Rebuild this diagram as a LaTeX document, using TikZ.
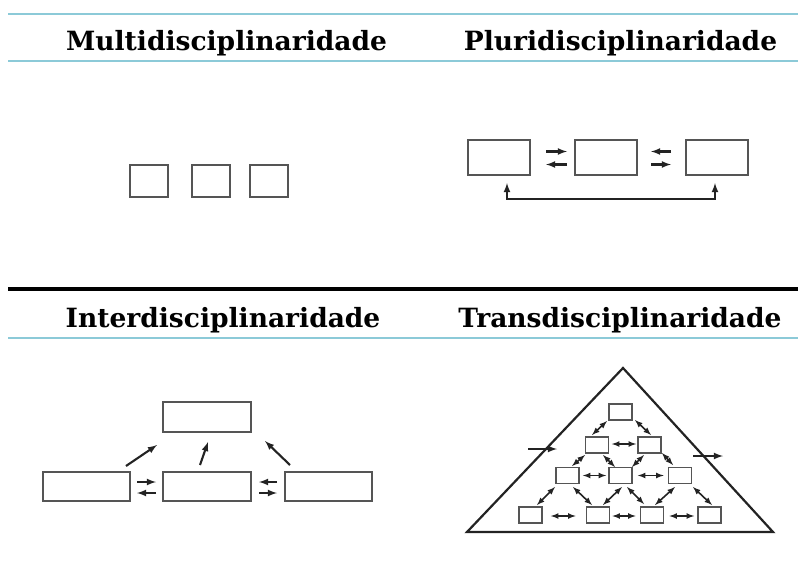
\documentclass[tikz,border=0pt]{standalone}
\usepackage{fontspec}
\setmainfont{DejaVu Serif}
\usepackage{tikz}
\usetikzlibrary{calc,arrows}
\definecolor{rulecyan}{RGB}{140,202,216}
\definecolor{boxgray}{RGB}{85,85,85}
\definecolor{arrowgray}{RGB}{35,35,35}

\begin{document}
\begin{tikzpicture}[x=1pt,y=-1pt]
            \tikzset{
              Title/.style={font=\fontsize{26.5}{30}\selectfont\bfseries,anchor=base,inner sep=0pt},
              Disc/.style 2 args={draw=boxgray,line width=2pt,inner sep=0pt,minimum width=#1,minimum height=#2},
              Flow/.style={-latex,draw=arrowgray,line width=2.1pt},
              Link/.style={latex-latex,draw=arrowgray,line width=1.6pt}
            }
            \useasboundingbox (0,0) rectangle (798,579);

            % rules and titles
            \draw[rulecyan,line width=2.5pt] (8,14) -- (798,14);
            \draw[rulecyan,line width=2.5pt] (8,61) -- (798,61);
            \draw[black,line width=4.5pt] (8,289) -- (798,289);
            \draw[rulecyan,line width=2.5pt] (8,338) -- (798,338);
            \node[Title] (multi) at (226.5,50) {Multidisciplinaridade};
            \node[Title] (pluri) at (620.5,50) {Pluridisciplinaridade};
            \node[Title] (inter) at (223,327) {Interdisciplinaridade};
            \node[Title] (trans) at (620,327) {Transdisciplinaridade};

            % multi
            \node[Disc={38pt}{32pt}] (m_1) at (149,181) {};
            \node[Disc={38pt}{32pt}] (m_2) at (211,181) {};
            \node[Disc={38pt}{32pt}] (m_3) at (268.5,181) {};

            % pluri
            \node[Disc={62pt}{35pt}] (p_1) at (498.5,157.5) {};
            \node[Disc={62pt}{35pt}] (p_2) at (605.5,157.5) {};
            \node[Disc={62pt}{35pt}] (p_3) at (717,157.5) {};
            \draw[Flow] ($(p_1.east)+(15.5,-6)$) -- ($(p_2.west)+(-6.5,-6)$);
            \draw[Flow] ($(p_2.west)+(-6.5,7)$) -- ($(p_1.east)+(15.5,7)$);
            \draw[Flow] ($(p_3.west)+(-14,-6)$) -- ($(p_2.east)+(13.5,-6)$);
            \draw[Flow] ($(p_2.east)+(13.5,7)$) -- ($(p_3.west)+(-14,7)$);
            \draw[Flow,latex-latex] ($(p_1.south)+(8.5,7)$) -- ++(0,16) -| ($(p_3.south)+(-2,7)$);

            % inter
            \node[Disc={88pt}{30pt}] (i_0) at (207,417) {};
            \node[Disc={87pt}{29pt}] (i_1) at (86.5,486) {};
            \node[Disc={88pt}{29pt}] (i_2) at (207,486) {};
            \node[Disc={87pt}{29pt}] (i_3) at (328.5,486) {};
            \draw[Flow] ($(i_1.east)+(6,-4)$) -- ($(i_2.west)+(-6,-4)$);
            \draw[Flow] ($(i_2.west)+(-6,7)$) -- ($(i_1.east)+(6,7)$);
            \draw[Flow] ($(i_3.west)+(-7,-4)$) -- ($(i_2.east)+(7,-4)$);
            \draw[Flow] ($(i_2.east)+(7,7)$) -- ($(i_3.west)+(-7,7)$);
            \draw[Flow] ($(i_1.north east)+(-5,-4.5)$) -- ($(i_0.south west)+(-5,12)$);
            \draw[Flow] ($(i_2.north)+(-7,-5.5)$) -- ($(i_0.south)+(1,9)$);
            \draw[Flow] ($(i_3.north west)+(6,-5.5)$) -- ($(i_0.south east)+(13,8)$);

            % trans
            \coordinate (apex) at (623,368);
            \coordinate (base_l) at (467,532);
            \coordinate (base_r) at (773,532);
            \draw[arrowgray,line width=2.2pt] (apex) -- (base_r) -- (base_l) -- cycle;
            \coordinate (in_a) at (528,449);
            \coordinate (in_b) at (557,449);
            \coordinate (out_a) at (693,456);
            \coordinate (out_b) at (723,456);
            \draw[Flow] (in_a) -- (in_b);
            \draw[Flow] (out_a) -- (out_b);

            \node[Disc={23pt}{16pt},line width=1.7pt] (t_1) at (620.5,412) {};
            \node[Disc={23pt}{16pt},line width=1.7pt] (t_21) at (597,445) {};
            \node[Disc={23pt}{16pt},line width=1.7pt] (t_22) at (649.5,445) {};
            \node[Disc={23pt}{16pt},line width=1.7pt] (t_31) at (567.5,475.5) {};
            \node[Disc={23pt}{16pt},line width=1.7pt] (t_32) at (620.5,475.5) {};
            \node[Disc={23pt}{16pt},line width=1.7pt] (t_33) at (680,475.5) {};
            \node[Disc={23pt}{16pt},line width=1.7pt] (t_41) at (530.5,515) {};
            \node[Disc={23pt}{16pt},line width=1.7pt] (t_42) at (598,515) {};
            \node[Disc={23pt}{16pt},line width=1.7pt] (t_43) at (652,515) {};
            \node[Disc={23pt}{16pt},line width=1.7pt] (t_44) at (709.5,515) {};

            \draw[Link] ($(t_1)+(-13.5,9)$) -- ($(t_21)+(-5,-10)$);
            \draw[Link] ($(t_1)+(14.5,8)$) -- ($(t_22)+(1.5,-10)$);
            \draw[Link] ($(t_21.east)+(2.5,-1)$) -- ($(t_22.west)+(-1,-1)$);
            \draw[Link] ($(t_21)+(-12,10)$) -- ($(t_31)+(4.5,-9.5)$);
            \draw[Link] ($(t_21)+(6,10)$) -- ($(t_32)+(-5.5,-8.5)$);
            \draw[Link] ($(t_22)+(-5.5,10)$) -- ($(t_32)+(11.5,-8.5)$);
            \draw[Link] ($(t_22)+(12.5,8)$) -- ($(t_33)+(-7,-10.5)$);
            \draw[Link] ($(t_31.east)+(3,0)$) -- ($(t_32.west)+(-2,0)$);
            \draw[Link] ($(t_32.east)+(5,0)$) -- ($(t_33.west)+(-4,0)$);
            \draw[Link] ($(t_31)+(-12.5,11.5)$) -- ($(t_41)+(6.5,-10)$);
            \draw[Link] ($(t_31)+(5.5,11.5)$) -- ($(t_42)+(-6,-10)$);
            \draw[Link] ($(t_32)+(1.5,11.5)$) -- ($(t_42)+(5,-10)$);
            \draw[Link] ($(t_32)+(6.5,11.5)$) -- ($(t_43)+(-8,-11)$);
            \draw[Link] ($(t_33)+(-5,11.5)$) -- ($(t_43)+(3,-10)$);
            \draw[Link] ($(t_33)+(13,11.5)$) -- ($(t_44)+(2.5,-10)$);
            \draw[Link] ($(t_41.east)+(8,1)$) -- ($(t_42.west)+(-10,1)$);
            \draw[Link] ($(t_42.east)+(2,1)$) -- ($(t_43.west)+(-4,1)$);
            \draw[Link] ($(t_43.east)+(5,1)$) -- ($(t_44.west)+(-3,1)$);
\end{tikzpicture}
\end{document}
